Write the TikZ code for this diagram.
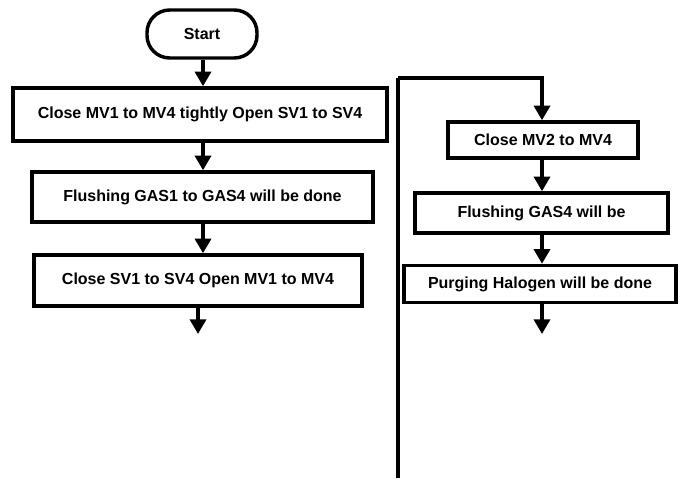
\documentclass[tikz,border=0pt]{standalone}
\usepackage{fontspec}
\setmainfont{Liberation Sans}
\usetikzlibrary{positioning,arrows.meta}
\tikzset{
stepbox/.style={
draw,
line width=2.6pt,
align=center,
inner sep=0pt,
font=\bfseries\fontsize{12}{14}\selectfont
},
startbox/.style={
stepbox,
rounded corners=17pt
},
arrow/.style={
-{Triangle[length=11pt,width=12pt]},
line width=2.6pt
}
}
\begin{document}
\begin{tikzpicture}[x=0.75pt,y=-0.75pt]
\useasboundingbox (0,0) rectangle (681,478);
% left column
\node[startbox,minimum width=82.5pt,minimum height=36pt] (start) at (202,34) {Start};
\node[stepbox,minimum width=280.5pt,minimum height=39.75pt] (s1) at (200,114.5) {Close MV1 to MV4 tightly Open SV1 to SV4};
\node[stepbox,minimum width=255.75pt,minimum height=37.5pt] (s2) at (202.5,197) {Flushing GAS1 to GAS4 will be done};
\node[stepbox,minimum width=246pt,minimum height=38.25pt] (s3) at (198,280.5) {Close SV1 to SV4 Open MV1 to MV4};
\coordinate (lcol) at (203,0);
\coordinate (lend) at (198,334);
% right column
\node[stepbox,minimum width=142.5pt,minimum height=27pt] (r1) at (543,140) {Close MV2 to MV4};
\node[stepbox,minimum width=189.75pt,minimum height=30pt] (r2) at (541.5,213) {Flushing GAS4 will be};
\node[stepbox,minimum width=204pt,minimum height=27.75pt] (r3) at (540,284) {Purging Halogen will be done};
\coordinate (rcol) at (542,0);
\coordinate (rend) at (542,334);
\coordinate (loopbot) at (398,478);
\coordinate (looptop) at (398,78);

\foreach \x/\y in {start/s1,s1/s2,s2/s3}
\draw[arrow](\x.south -| lcol)--(\y.north -| lcol);
\draw[arrow](s3.south)--(lend);
\draw[line width=2.6pt](loopbot)--(looptop);
\draw[arrow](looptop)-|(r1.north -| rcol);
\foreach \x/\y in {r1/r2,r2/r3}
\draw[arrow](\x.south -| rcol)--(\y.north -| rcol);
\draw[arrow](r3.south -| rcol)--(rend);
\end{tikzpicture}
\end{document}
